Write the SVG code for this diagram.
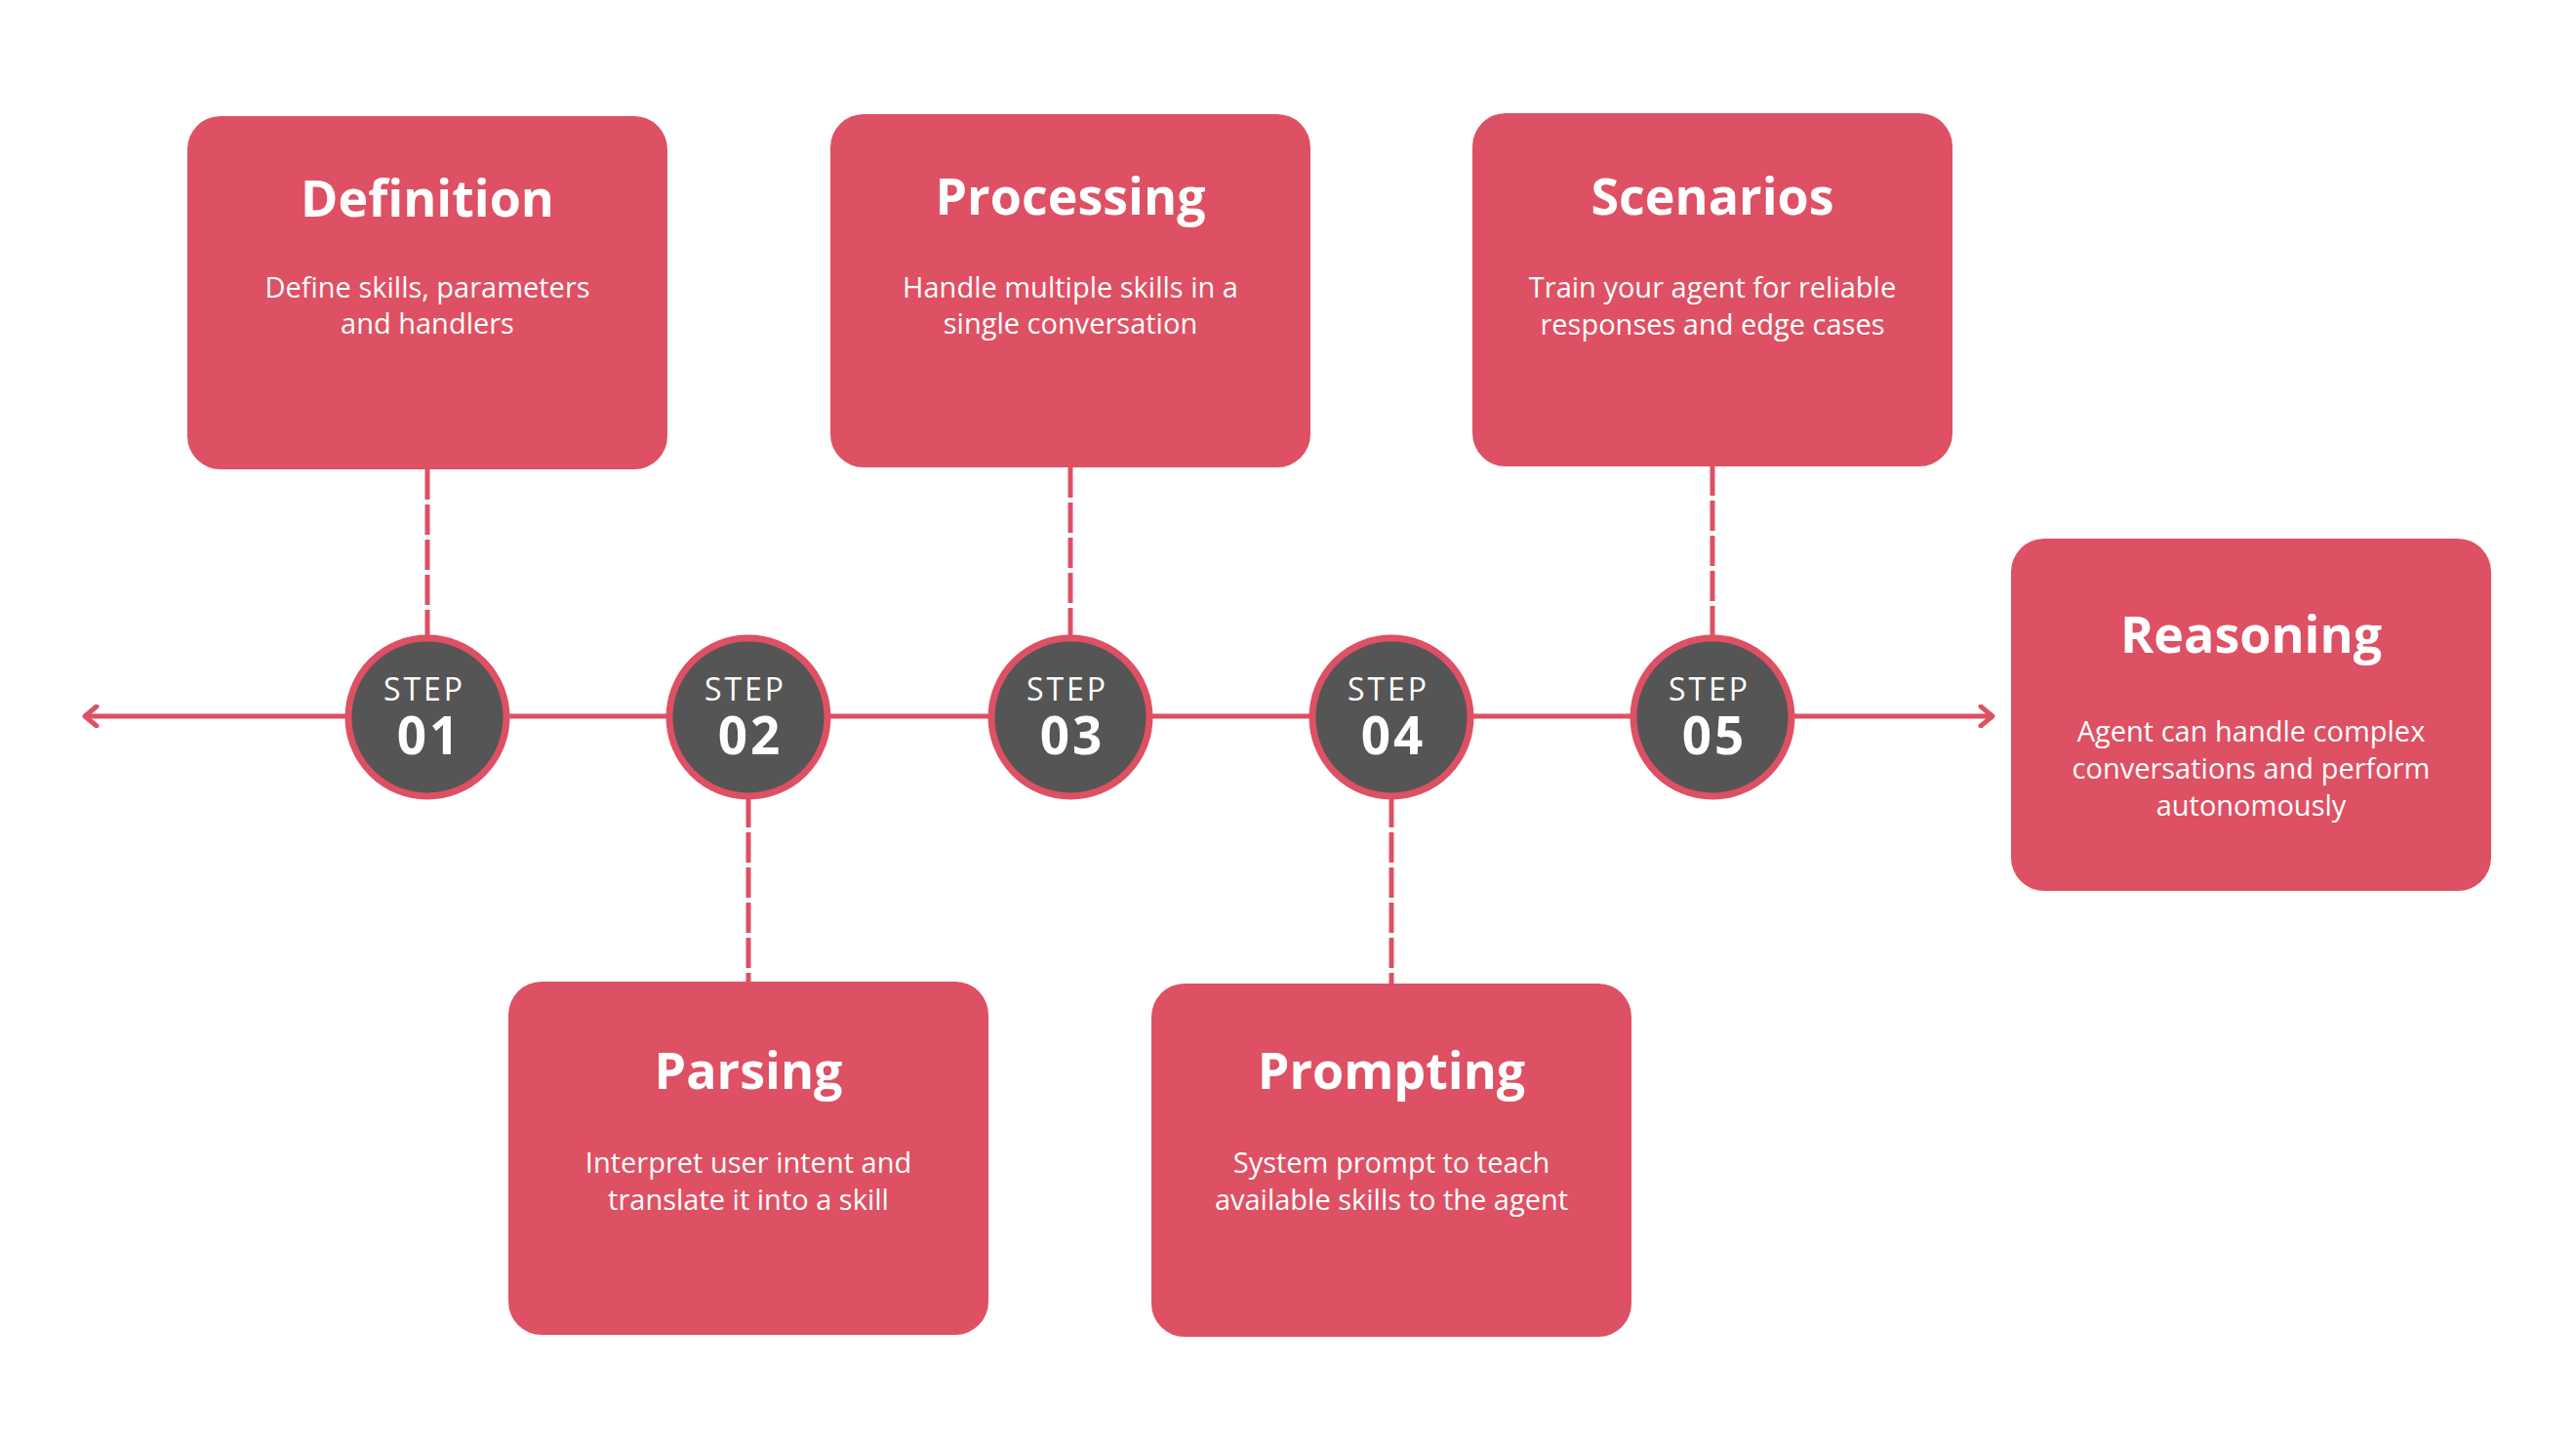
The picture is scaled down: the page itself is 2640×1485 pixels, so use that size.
<svg xmlns="http://www.w3.org/2000/svg" width="2640" height="1485" viewBox="0 0 2640 1485">
  <style>
    .box { fill: #DE5063; }
    .title { font-family: "Open Sans", "Liberation Sans", sans-serif; font-weight: 700; font-size: 52px; fill: #FFFFFF; text-anchor: middle; }
    .body { font-family: "Open Sans", "Liberation Sans", sans-serif; font-weight: 400; font-size: 29px; fill: #FFFFFF; text-anchor: middle; }
    .circ { fill: #555555; stroke: #DE5063; stroke-width: 7; }
    .lbl { font-family: "Open Sans", "Liberation Sans", sans-serif; fill: #FFFFFF; text-anchor: middle; }
    .step { font-weight: 400; font-size: 32px; letter-spacing: 3px; }
    .num { font-weight: 700; font-size: 53px; letter-spacing: 3px; }
    .axis { stroke: #DE5063; stroke-width: 5; fill: none; }
    .dash { stroke: #DE5063; stroke-width: 5; stroke-dasharray: 31 5; fill: none; }
  </style>
  <defs>
    <marker id="chev" viewBox="0 0 20 24" refX="16" refY="12" markerWidth="20" markerHeight="24" markerUnits="userSpaceOnUse" orient="auto-start-reverse">
      <path d="M4,2 L16,12 L4,22" fill="none" stroke="#DE5063" stroke-width="5" stroke-linecap="round" stroke-linejoin="round"/>
    </marker>
  </defs>
  <rect width="2640" height="1485" fill="#FFFFFF"/>

  <g id="connectors">
    <line class="axis" x1="87" y1="734" x2="2042" y2="734" marker-start="url(#chev)" marker-end="url(#chev)"/>
    <line class="dash" x1="438" y1="481" x2="438" y2="652"/>
    <line class="dash" x1="1097" y1="479" x2="1097" y2="652"/>
    <line class="dash" x1="1755" y1="477" x2="1755" y2="652"/>
    <line class="dash" x1="767" y1="817" x2="767" y2="1007"/>
    <line class="dash" x1="1426" y1="817" x2="1426" y2="1009"/>
  </g>

  <g id="step01">
    <circle class="circ" cx="438" cy="735" r="81"/>
    <text class="lbl"><tspan class="step" x="435" y="718">STEP</tspan><tspan class="num" x="440" y="773">01</tspan></text>
  </g>
  <g id="step02">
    <circle class="circ" cx="767" cy="735" r="81"/>
    <text class="lbl"><tspan class="step" x="764" y="718">STEP</tspan><tspan class="num" x="769" y="773">02</tspan></text>
  </g>
  <g id="step03">
    <circle class="circ" cx="1097" cy="735" r="81"/>
    <text class="lbl"><tspan class="step" x="1094" y="718">STEP</tspan><tspan class="num" x="1099" y="773">03</tspan></text>
  </g>
  <g id="step04">
    <circle class="circ" cx="1426" cy="735" r="81"/>
    <text class="lbl"><tspan class="step" x="1423" y="718">STEP</tspan><tspan class="num" x="1428" y="773">04</tspan></text>
  </g>
  <g id="step05">
    <circle class="circ" cx="1755" cy="735" r="81"/>
    <text class="lbl"><tspan class="step" x="1752" y="718">STEP</tspan><tspan class="num" x="1757" y="773">05</tspan></text>
  </g>

  <g id="definition">
    <rect class="box" x="192" y="119" width="492" height="362" rx="34"/>
    <text class="title" x="438" y="222">Definition</text>
    <text class="body" x="438" y="305">Define skills, parameters</text>
    <text class="body" x="438" y="342">and handlers</text>
  </g>
  <g id="processing">
    <rect class="box" x="851" y="117" width="492" height="362" rx="34"/>
    <text class="title" x="1097" y="220">Processing</text>
    <text class="body" x="1097" y="305">Handle multiple skills in a</text>
    <text class="body" x="1097" y="342">single conversation</text>
  </g>
  <g id="scenarios">
    <rect class="box" x="1509" y="116" width="492" height="362" rx="34"/>
    <text class="title" x="1755" y="220">Scenarios</text>
    <text class="body" x="1755" y="305">Train your agent for reliable</text>
    <text class="body" x="1755" y="343">responses and edge cases</text>
  </g>
  <g id="parsing">
    <rect class="box" x="521" y="1006" width="492" height="362" rx="34"/>
    <text class="title" x="767" y="1116">Parsing</text>
    <text class="body" x="767" y="1202">Interpret user intent and</text>
    <text class="body" x="767" y="1240">translate it into a skill</text>
  </g>
  <g id="prompting">
    <rect class="box" x="1180" y="1008" width="492" height="362" rx="34"/>
    <text class="title" x="1426" y="1116">Prompting</text>
    <text class="body" x="1426" y="1202">System prompt to teach</text>
    <text class="body" x="1426" y="1240">available skills to the agent</text>
  </g>
  <g id="reasoning">
    <rect class="box" x="2061" y="552" width="492" height="361" rx="34"/>
    <text class="title" x="2307" y="669">Reasoning</text>
    <text class="body" x="2307" y="760">Agent can handle complex</text>
    <text class="body" x="2307" y="798">conversations and perform</text>
    <text class="body" x="2307" y="836">autonomously</text>
  </g>
</svg>
